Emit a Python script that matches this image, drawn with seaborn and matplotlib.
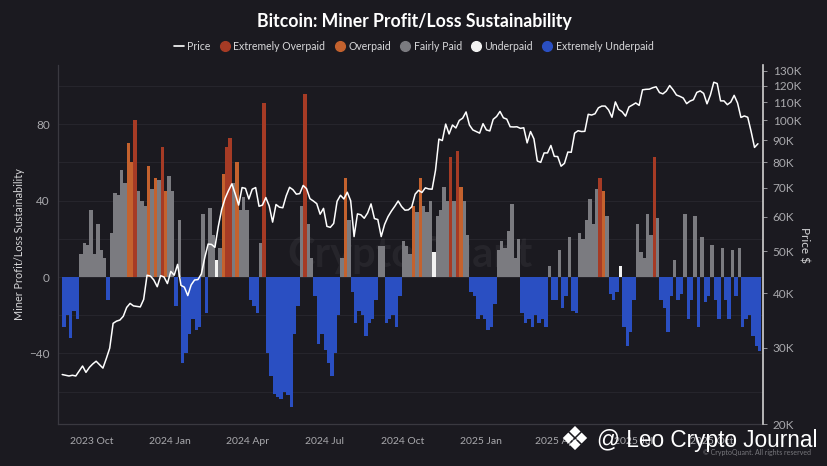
import matplotlib
matplotlib.use('Agg')
import matplotlib.pyplot as plt
from matplotlib.lines import Line2D
import numpy as np
import pandas as pd
import seaborn as sns

# ---- data: 4-day bins starting 2023-08-27 ----
start_date = '2023-08-27'

# Miner Profit/Loss Sustainability (one value per 4-day bin)
sustainability = [
    -26, -20, -32, -18, -22, 12, 18, 17, 35, 12,
    28, 14, 10, -12, 23, 44, 43, 56, 49, 70,
    60, 82, 45, 40, 37, 58, 46, 52, 51, 68,
    45, 53, 45, -15, 30, -45, -40, -30, -22, -28,
    -26, 33, -19, 36, 22, 9, 15, 54, 68, 73,
    49, 60, 35, 42, 35, -12, -15, -19, 18, 91,
    -40, -52, -61, -63, -64, -60, -62, -68, -30, -15,
    37, 96, 28, 10, -10, -35, -30, -38, -45, -52,
    -40, -20, 10, 52, 30, -8, -24, -18, -20, -31,
    -24, -22, -12, 16, 16, -24, -22, -20, -26, -10,
    19, 16, 12, 37, 34, 52, 37, 34, 40, 13,
    32, 35, 47, 40, 63, 40, 66, 47, 40, 22,
    -8, -10, -22, -20, -22, -28, -26, -14, 14, 19,
    15, 24, 38, 10, 20, -19, -24, -22, -26, -20,
    -24, -22, -26, 6, -12, -12, 14, -16, -10, 21,
    -18, -19, 23, 20, 30, 41, 28, 46, 52, 45,
    32, -9, -12, -8, 6, -26, -36, -29, -12, 28,
    13, 10, 33, 22, 63, 31, -12, -16, -29, -10,
    9, -12, -9, 33, -22, -12, 32, -26, 21, -13,
    -10, 17, -12, -22, 15, -12, -22, 14, -10, 15,
    -26, -22, -20, -31, -36, -39,
]

# bins that are not "Fairly Paid" on the positive side
extreme_overpaid_bins = [21, 29, 48, 49, 59, 71, 114, 116, 158, 174]
overpaid_bins = [19, 20, 25, 27, 30, 47, 51, 83, 103, 105, 117, 159]
underpaid_bins = [45, 109, 164]

# BTC price in thousand USD, same bins
price_k = [
    26.0, 25.9, 25.8, 25.9, 25.8, 26.5, 27.2, 26.3, 27.0, 27.5,
    27.9, 27.4, 26.9, 28.3, 29.9, 34.1, 34.5, 34.7, 35.4, 37.1,
    37.9, 37.4, 37.3, 37.2, 38.7, 44.0, 43.8, 42.9, 41.4, 43.9,
    43.6, 42.1, 44.9, 44.0, 46.6, 41.7, 41.3, 39.5, 41.8, 42.9,
    43.0, 44.3, 48.3, 51.9, 51.8, 51.0, 57.0, 62.4, 66.1, 68.9,
    71.4, 67.6, 63.8, 70.0, 69.7, 65.9, 69.4, 70.0, 63.4, 63.8,
    66.4, 63.5, 58.3, 64.0, 63.1, 62.9, 67.0, 70.1, 69.2, 67.6,
    67.8, 70.8, 69.6, 66.0, 65.2, 64.3, 60.8, 62.7, 57.0, 56.7,
    57.9, 65.1, 67.2, 65.9, 68.3, 65.3, 54.0, 60.9, 60.6, 59.5,
    61.2, 64.2, 59.4, 59.1, 54.0, 57.6, 60.0, 61.8, 63.4, 65.2,
    63.3, 62.1, 62.2, 63.2, 67.6, 69.0, 68.2, 69.9, 69.5, 69.4,
    76.7, 90.5, 89.8, 98.0, 93.0, 97.5, 96.0, 99.9, 101.1, 104.5,
    97.5, 95.0, 94.2, 93.4, 98.2, 95.0, 94.5, 100.5, 102.0, 104.8,
    101.3, 100.6, 96.6, 96.5, 96.6, 95.8, 96.1, 88.7, 94.2, 90.6,
    80.6, 80.0, 84.1, 84.1, 87.5, 82.6, 82.5, 78.4, 79.6, 84.5,
    84.4, 93.4, 94.6, 94.2, 94.3, 103.2, 102.8, 103.5, 106.8, 107.8,
    107.8, 105.6, 101.6, 110.2, 105.9, 104.6, 102.2, 107.3, 108.4, 109.6,
    108.2, 117.5, 117.8, 117.9, 118.8, 119.4, 115.8, 115.0, 116.7, 120.2,
    117.5, 114.3, 113.5, 112.5, 109.2, 110.7, 111.5, 115.9, 116.8, 115.3,
    109.1, 114.3, 122.3, 121.5, 110.8, 110.8, 108.6, 110.1, 114.1, 109.6,
    101.5, 102.3, 101.6, 94.2, 86.6, 88.3,
]

x_tick_dates = ['2023-10-01', '2024-01-01', '2024-04-01', '2024-07-01',
                '2024-10-01', '2025-01-01', '2025-04-01', '2025-07-01', '2025-10-01']
x_tick_labels = ['2023 Oct', '2024 Jan', '2024 Apr', '2024 Jul', '2024 Oct',
                 '2025 Jan', '2025 Apr', '2025 Jul', '2025 Oct']
left_ticks = [-40, 0, 40, 80]
price_ticks = [20, 30, 40, 50, 60, 70, 80, 90, 100, 110, 120, 130]

# ---- style ----
bg = '#1b1a20'
tick_col = '#a9a9ad'
palette = {
    'Extremely Overpaid': '#a63b25',
    'Overpaid': '#c4622e',
    'Fairly Paid': '#7b7b80',
    'Underpaid': '#f2f2f2',
    'Extremely Underpaid': '#2a4fc2',
}

sns.set_theme(style='dark')
plt.rcParams['font.family'] = ['Lato', 'DejaVu Sans']

dates = pd.date_range(start_date, periods=len(sustainability), freq='4D')
df = pd.DataFrame({'date': dates, 'value': sustainability, 'price': np.array(price_k) * 1000})
df['status'] = 'Fairly Paid'
df.loc[df['value'] < 0, 'status'] = 'Extremely Underpaid'
df.loc[extreme_overpaid_bins, 'status'] = 'Extremely Overpaid'
df.loc[overpaid_bins, 'status'] = 'Overpaid'
df.loc[underpaid_bins, 'status'] = 'Underpaid'

fig = plt.figure(figsize=(8.28, 4.66), dpi=100, facecolor=bg)
ax = fig.add_axes([0.070, 0.090, 0.8515, 0.7705])
ax.set_facecolor(bg)

# bars
ax.bar(df['date'], df['value'], width=4, align='edge',
       color=df['status'].map(palette), linewidth=0, zorder=2)

ax.set_ylim(-77, 111)
ax.set_yticks(left_ticks)
ax.set_yticks(np.arange(-60, 101, 20), minor=True)
ax.grid(False)
ax.grid(axis='y', which='both', color='#27262d', linewidth=0.7, zorder=0)
ax.set_xlim(pd.Timestamp('2023-08-22'), pd.Timestamp('2025-11-30'))
ax.set_xticks(pd.to_datetime(x_tick_dates))
ax.set_xticklabels(x_tick_labels)
ax.tick_params(axis='x', colors=tick_col, labelsize=7.5, length=3, width=0.6, pad=6)
ax.tick_params(axis='y', which='major', colors=tick_col, labelsize=8.5, length=0, pad=6)
ax.tick_params(axis='y', which='minor', length=0)
for lab in ax.get_xticklabels() + ax.get_yticklabels():
    lab.set_color(tick_col)
ax.set_ylabel('Miner Profit/Loss Sustainability', color='#d6d6d8', fontsize=7.8, labelpad=3)
ax.set_xlabel('')
for side in ['top', 'right']:
    ax.spines[side].set_visible(False)
for side in ['left', 'bottom']:
    ax.spines[side].set_color('#3a3940')
    ax.spines[side].set_linewidth(0.9)

# faint watermark in middle
ax.text(0.5, 0.47, 'CryptoQuant', transform=ax.transAxes, ha='center', va='center',
        fontsize=30, color='white', alpha=0.05, fontweight='bold', zorder=1)

# price line on log axis
ax2 = ax.twinx()
sns.lineplot(data=df, x='date', y='price', ax=ax2, color='white', linewidth=1.1, zorder=5)
ax2.set_yscale('log')
ax2.set_ylim(20000, 134000)
ax2.set_yticks([p * 1000 for p in price_ticks])
ax2.set_yticklabels([f'{p}K' for p in price_ticks])
ax2.yaxis.set_minor_locator(matplotlib.ticker.NullLocator())
ax2.tick_params(axis='y', colors=tick_col, labelsize=8.5, length=3, width=0.6, pad=4)
ax2.grid(False)
ax2.set_ylabel('Price $', color='#d6d6d8', fontsize=8.5, rotation=270, labelpad=6)
ax2.set_xlabel('')
for side in ['top', 'left', 'bottom']:
    ax2.spines[side].set_visible(False)
ax2.spines['right'].set_color('#d0d0d0')
ax2.spines['right'].set_linewidth(1.2)

# title and legend
fig.text(0.5, 0.953, 'Bitcoin: Miner Profit/Loss Sustainability', ha='center', va='center',
         fontsize=12.7, fontweight='bold', color='white')

handles = [Line2D([0], [0], color='white', lw=1.2)]
labels = ['Price']
for name, col in palette.items():
    handles.append(Line2D([0], [0], marker='o', linestyle='', markersize=7,
                          markerfacecolor=col, markeredgecolor=col))
    labels.append(name)
leg = fig.legend(handles, labels, loc='center', bbox_to_anchor=(0.5, 0.901), ncol=6,
                 frameon=False, fontsize=7.6, handlelength=0.9, handletextpad=0.35,
                 columnspacing=0.9)
for t in leg.get_texts():
    t.set_color('#d8d8da')

# channel watermark
fig.text(0.676, 0.054, '\u2756', ha='left', va='center', fontsize=24, color='white',
         family=['DejaVu Sans'])
fig.text(0.721, 0.054, '@ Leo Crypto Journal', ha='left', va='center', fontsize=16.3,
         color='white', family=['Liberation Sans', 'DejaVu Sans'])
fig.text(0.849, 0.030, '\u00a9 CryptoQuant. All rights reserved', ha='left', va='center',
         fontsize=5, color='#77777c')

fig.savefig('out.png', dpi=100, facecolor=bg)
